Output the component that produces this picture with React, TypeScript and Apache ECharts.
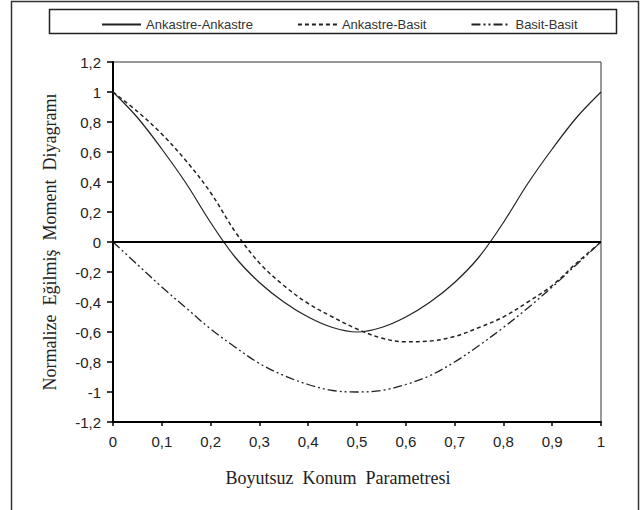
import React, { useEffect, useRef } from "react";
import * as echarts from "echarts";

const xs = [0, 0.05, 0.1, 0.15, 0.2, 0.25, 0.3, 0.35, 0.4, 0.45, 0.5, 0.55, 0.6, 0.65, 0.7, 0.75, 0.8, 0.85, 0.9, 0.95, 1];
const ankastreAnkastre = [1.0, 0.83, 0.62, 0.39, 0.13, -0.1, -0.27, -0.4, -0.5, -0.57, -0.6, -0.57, -0.5, -0.4, -0.27, -0.1, 0.13, 0.39, 0.62, 0.83, 1.0];
const ankastreBasit = [1.0, 0.87, 0.72, 0.54, 0.33, 0.07, -0.14, -0.29, -0.41, -0.5, -0.58, -0.64, -0.665, -0.66, -0.63, -0.57, -0.5, -0.4, -0.29, -0.14, 0];
const basitBasit = [0, -0.15, -0.3, -0.44, -0.58, -0.7, -0.81, -0.89, -0.95, -0.99, -1.0, -0.99, -0.95, -0.89, -0.8, -0.69, -0.57, -0.44, -0.3, -0.15, 0];
const seriesNames = ["Ankastre-Ankastre", "Ankastre-Basit", "Basit-Basit"];
const xTitle = "Boyutsuz  Konum  Parametresi";
const yTitle = "Normalize  Eğilmiş  Moment  Diyagramı";

const fmt = (v: number) => {
  const r = Math.round(v * 10) / 10;
  return String(r).replace(".", ",");
};

export default function App() {
  const ref = useRef<HTMLDivElement>(null);
  useEffect(() => {
    if (!ref.current) return;
    const chart = echarts.init(ref.current, null, { renderer: "svg" });
    const pairs = (arr: number[]) => xs.map((x, i) => [x, arr[i]]);
    const lineColor = "#222";
    chart.setOption({
      animation: false,
      backgroundColor: "#fff",
      graphic: [
        {
          type: "rect",
          shape: { x: 11.5, y: 1.5, width: 627, height: 530 },
          style: { fill: "none", stroke: "#333", lineWidth: 1.5 },
          silent: true,
        },
        {
          type: "rect",
          shape: { x: 49.5, y: 9.5, width: 567, height: 24 },
          style: { fill: "none", stroke: "#222", lineWidth: 1.5 },
          silent: true,
        },
      ],
      legend: {
        data: seriesNames,
        left: 96,
        top: 13,
        itemWidth: 39,
        itemHeight: 14,
        itemGap: 44,
        itemStyle: { opacity: 0, borderWidth: 0 },
        textStyle: { fontFamily: "Liberation Sans", fontSize: 13, color: "#333" },
      },
      grid: {
        left: 113,
        right: 40,
        top: 62,
        bottom: 88,
        show: true,
        borderColor: "#333",
        borderWidth: 1,
        backgroundColor: "transparent",
      },
      xAxis: {
        type: "value",
        min: 0,
        max: 1,
        interval: 0.1,
        name: xTitle,
        nameLocation: "middle",
        nameGap: 47,
        nameTextStyle: { fontFamily: "Liberation Serif", fontSize: 18, color: "#222", padding: [0, 38, 0, 0] },
        axisLine: { onZero: false, lineStyle: { color: "#000", width: 2 } },
        axisTick: { show: true, inside: false, length: 4, lineStyle: { color: "#000", width: 1.5 } },
        axisLabel: { formatter: fmt, fontFamily: "Liberation Sans", fontSize: 15, color: "#222", margin: 12 },
        splitLine: { show: false },
      },
      yAxis: {
        type: "value",
        min: -1.2,
        max: 1.2,
        interval: 0.2,
        name: yTitle,
        nameLocation: "middle",
        nameRotate: 90,
        nameGap: 54,
        nameTextStyle: { fontFamily: "Liberation Serif", fontSize: 18, color: "#222" },
        axisLine: { onZero: false, lineStyle: { color: "#000", width: 2 } },
        axisTick: { show: true, inside: false, length: 6, lineStyle: { color: "#000", width: 1.5 } },
        axisLabel: { formatter: fmt, fontFamily: "Liberation Sans", fontSize: 15, color: "#222", margin: 12 },
        splitLine: { show: false },
      },
      series: [
        {
          name: seriesNames[0],
          type: "line",
          data: pairs(ankastreAnkastre),
          smooth: 0.35,
          symbol: "none",
          lineStyle: { color: lineColor, width: 1.2, type: "solid" },
          itemStyle: { color: lineColor },
        },
        {
          name: seriesNames[1],
          type: "line",
          data: pairs(ankastreBasit),
          smooth: 0.35,
          symbol: "none",
          lineStyle: { color: lineColor, width: 1.5, type: [4, 3] },
          itemStyle: { color: lineColor },
        },
        {
          name: seriesNames[2],
          type: "line",
          data: pairs(basitBasit),
          smooth: 0.35,
          symbol: "none",
          lineStyle: { color: lineColor, width: 1.3, type: [9, 3, 2, 3, 2, 3] },
          itemStyle: { color: lineColor },
        },
        {
          name: "zero",
          type: "line",
          data: [[0, 0], [1, 0]],
          symbol: "none",
          lineStyle: { color: "#000", width: 2.2 },
          silent: true,
        },
      ],
    });
    return () => chart.dispose();
  }, []);
  return <div ref={ref} style={{ position: "fixed", left: 0, top: 0, width: 641, height: 510 }} />;
}
